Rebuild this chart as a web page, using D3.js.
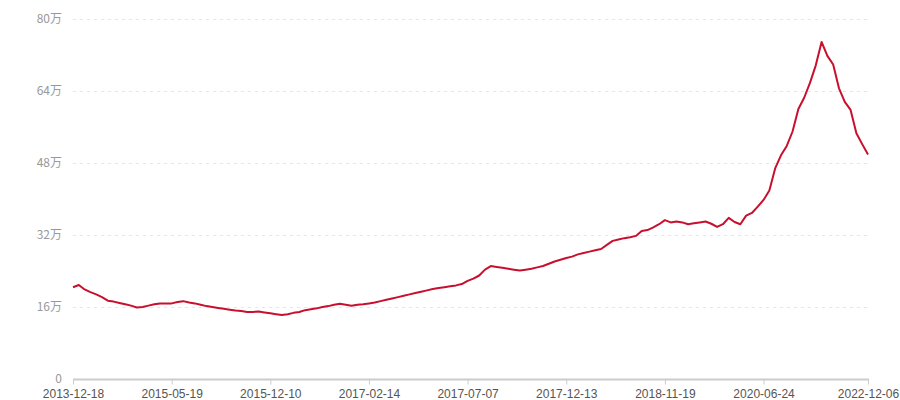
<!DOCTYPE html>
<html>
<head>
<meta charset="utf-8">
<script src="https://cdn.jsdelivr.net/npm/d3@7"></script>
<style>
    body { margin: 0; background: #fff; }
    text { font-family: "Noto Sans CJK SC", "Noto Sans", sans-serif; }
</style>
</head>
<body>
<script>
// valeurs (万), un point par relevé
const values = [
    20.4, 20.9, 19.9, 19.3, 18.8, 18.2, 17.4, 17.2, 16.9, 16.6,
    16.3, 15.9, 16.0, 16.3, 16.6, 16.8, 16.8, 16.8, 17.1, 17.3,
    17.0, 16.8, 16.5, 16.2, 16.0, 15.8, 15.6, 15.4, 15.2, 15.1,
    14.9, 14.9, 15.0, 14.8, 14.6, 14.4, 14.2, 14.4, 14.7, 14.9,
    15.3, 15.5, 15.7, 16.0, 16.2, 16.5, 16.7, 16.5, 16.3, 16.5,
    16.6, 16.8, 17.0, 17.3, 17.6, 17.9, 18.2, 18.5, 18.8, 19.1,
    19.4, 19.7, 20.0, 20.2, 20.4, 20.6, 20.8, 21.1, 21.8, 22.3,
    23.0, 24.3, 25.1, 24.9, 24.7, 24.5, 24.3, 24.1, 24.3, 24.5,
    24.8, 25.1, 25.6, 26.1, 26.5, 26.9, 27.2, 27.7, 28.0, 28.3,
    28.6, 28.9, 29.8, 30.7, 31.0, 31.3, 31.5, 31.8, 32.9, 33.1,
    33.7, 34.4, 35.3, 34.8, 35.0, 34.8, 34.4, 34.6, 34.8, 35.0,
    34.5, 33.8, 34.4, 35.8, 34.9, 34.4, 36.3, 36.9, 38.3, 39.8,
    41.9, 46.8, 49.7, 51.8, 55.0, 60.0, 62.5, 65.8, 69.7, 74.9,
    71.8, 69.9, 64.6, 61.6, 59.8, 54.6, 52.2, 49.9
];

// étiquettes de l'axe X et leur position (indice du point)
const tickIndex = [0, 17, 34, 51, 68, 85, 102, 119, 137];
const tickLabels = [
    "2013-12-18", "2015-05-19", "2015-12-10", "2017-02-14", "2017-07-07",
    "2017-12-13", "2018-11-19", "2020-06-24", "2022-12-06"
];

const yTicks = [0, 16, 32, 48, 64, 80];

const width = 900;
const height = 400;
const margin = { top: 19, right: 32, bottom: 21, left: 73 };

const svg = d3.select("body").append("svg")
    .attr("width", width)
    .attr("height", height);

const x = d3.scaleLinear()
    .domain([0, values.length - 1])
    .range([margin.left, width - margin.right]);

const y = d3.scaleLinear()
    .domain([0, 80])
    .range([height - margin.bottom, margin.top]);

// grille horizontale en pointillés
svg.append("g")
    .selectAll("line")
    .data(yTicks.filter(d => d > 0))
    .enter()
    .append("line")
    .attr("x1", margin.left)
    .attr("x2", width - margin.right + 1)
    .attr("y1", d => Math.round(y(d)) + 0.5)
    .attr("y2", d => Math.round(y(d)) + 0.5)
    .style("stroke", "#e6e6e6")
    .style("stroke-dasharray", "3,4");

// axe Y (étiquettes seulement)
const yAxis = d3.axisLeft(y)
    .tickValues(yTicks)
    .tickSize(0)
    .tickPadding(11)
    .tickFormat(d => d === 0 ? "0" : d + "万");

svg.append("g")
    .attr("transform", `translate(${margin.left},0)`)
    .call(yAxis)
    .call(g => g.select(".domain").remove())
    .call(g => g.selectAll("text")
        .style("fill", "#999")
        .style("font-size", "12px"));

// axe X
const xAxis = d3.axisBottom(x)
    .tickValues(tickIndex)
    .tickSize(5)
    .tickPadding(5)
    .tickFormat((d, i) => tickLabels[i]);

svg.append("g")
    .attr("transform", `translate(0,${Math.round(y(0)) + 0.5})`)
    .call(xAxis)
    .call(g => g.select(".domain")
        .attr("d", `M${margin.left},0H${width - margin.right + 1}`)
        .style("stroke", "#ccc")
        .style("stroke-width", 2))
    .call(g => g.selectAll(".tick line").style("stroke", "#ccc"))
    .call(g => g.selectAll("text")
        .style("font-family", "'Liberation Sans', Arial, sans-serif")
        .style("fill", "#555")
        .style("font-size", "12px"));

// courbe
const line = d3.line()
    .x((d, i) => x(i))
    .y(d => y(d));

svg.append("path")
    .datum(values)
    .attr("d", line)
    .style("fill", "none")
    .style("stroke", "#c8102e")
    .style("stroke-width", 2)
    .style("stroke-linejoin", "round");
</script>
</body>
</html>
